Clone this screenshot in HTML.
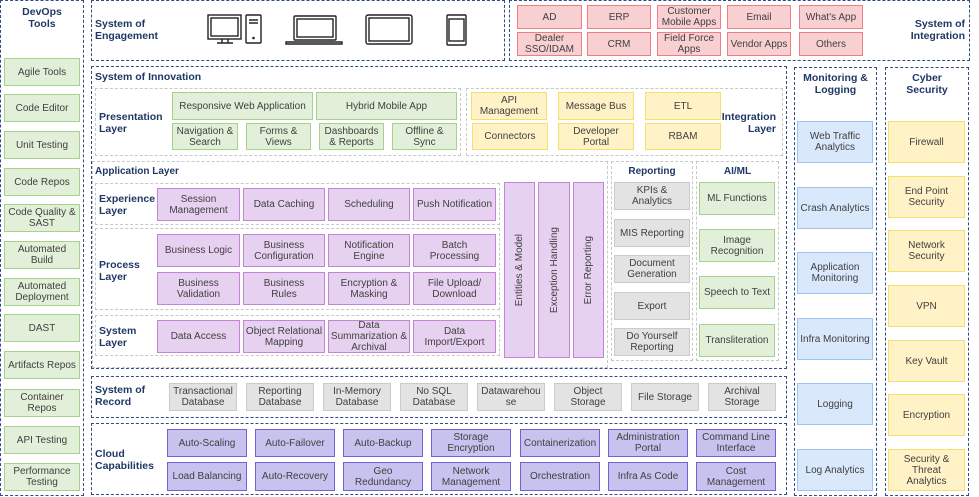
<!DOCTYPE html>
<html><head><meta charset="utf-8"><style>
*{box-sizing:border-box;margin:0;padding:0}
body{width:979px;height:497px;background:#fff;position:relative;overflow:hidden;font-family:"Liberation Sans",Arial,sans-serif}
.o{position:absolute;border:1.3px dashed #2f4b8a}
.g{position:absolute;border:1px dashed #c8c8c8}
.b{position:absolute;display:flex;align-items:center;justify-content:center;text-align:center;font-size:10px;line-height:11px;color:#404040;border:1.5px solid}
.gr{background:#e2f0d9;border-color:#a9d18e}
.pk{background:#f8d0d2;border-color:#ee7f84}
.ye{background:#fff2c6;border-color:#f5df6e}
.pu{background:#e6d2f0;border-color:#c386d6}
.gy{background:#e3e3e3;border-color:#cbcbcb}
.bl{background:#dae8fc;border-color:#9cc3f3}
.cl{background:#c7c2ee;border-color:#6f62d6}
.l{position:absolute;font-weight:bold;color:#1f3864;font-size:10.5px;line-height:12px}
.v{writing-mode:vertical-rl;transform:rotate(180deg)}
</style></head><body>
<!-- outer boxes -->
<div class="o" style="left:0;top:0;width:84px;height:496px"></div>
<div class="o" style="left:91px;top:0;width:414px;height:61px"></div>
<div class="o" style="left:509px;top:0;width:461px;height:61px"></div>
<div class="o" style="left:91px;top:66px;width:696px;height:303px"></div>
<div class="o" style="left:794px;top:67px;width:83px;height:429px"></div>
<div class="o" style="left:885px;top:67px;width:84px;height:429px"></div>
<div class="o" style="left:91px;top:376px;width:696px;height:42px"></div>
<div class="o" style="left:91px;top:423px;width:696px;height:72px"></div>

<div class="l" style="left:0;width:84px;top:6px;text-align:center">DevOps<br>Tools</div>
<div class="l" style="left:95px;top:18px">System of<br>Engagement</div>
<div class="l" style="left:880px;width:85px;top:18px;text-align:right">System of<br>Integration</div>
<div class="l" style="left:95px;top:71px">System of Innovation</div>
<div class="l" style="left:794px;width:83px;top:72px;text-align:center">Monitoring &amp;<br>Logging</div>
<div class="l" style="left:885px;width:84px;top:72px;text-align:center">Cyber<br>Security</div>
<div class="l" style="left:95px;top:384px">System of<br>Record</div>
<div class="l" style="left:95px;top:448px">Cloud<br>Capabilities</div>

<!-- devices -->
<svg style="position:absolute;left:200px;top:12px" width="280" height="36" fill="none" stroke="#222" stroke-width="1.4">
<rect x="8" y="3" width="33" height="24"/><rect x="11" y="6" width="27" height="18"/><path d="M22 27v4M28 27v4M17 31h16"/>
<rect x="46" y="3" width="15" height="28" rx="1"/><path d="M49 8h9M49 11h9"/><circle cx="53.5" cy="26" r=".6"/>
<rect x="94" y="4" width="42" height="24" rx="1"/><rect x="97" y="7" width="36" height="18"/><path d="M86 30h56v2h-56z"/>
<rect x="166" y="3" width="46" height="29" rx="2"/><rect x="169" y="6" width="40" height="23"/>
<rect x="247" y="3" width="19" height="30" rx="1"/><rect x="249" y="7" width="15" height="22"/>
</svg>

<!-- devops -->
<div class="b gr" style="left:4px;top:58px;width:76px;height:28px">Agile Tools</div>
<div class="b gr" style="left:4px;top:94px;width:76px;height:28px">Code Editor</div>
<div class="b gr" style="left:4px;top:131px;width:76px;height:28px">Unit Testing</div>
<div class="b gr" style="left:4px;top:168px;width:76px;height:28px">Code Repos</div>
<div class="b gr" style="left:4px;top:204px;width:76px;height:28px">Code Quality &amp;<br>SAST</div>
<div class="b gr" style="left:4px;top:241px;width:76px;height:28px">Automated<br>Build</div>
<div class="b gr" style="left:4px;top:278px;width:76px;height:28px">Automated<br>Deployment</div>
<div class="b gr" style="left:4px;top:314px;width:76px;height:28px">DAST</div>
<div class="b gr" style="left:4px;top:351px;width:76px;height:28px">Artifacts Repos</div>
<div class="b gr" style="left:4px;top:389px;width:76px;height:28px">Container<br>Repos</div>
<div class="b gr" style="left:4px;top:426px;width:76px;height:28px">API Testing</div>
<div class="b gr" style="left:4px;top:463px;width:76px;height:28px">Performance<br>Testing</div>

<!-- integration -->
<div class="b pk" style="left:517px;top:5px;width:65px;height:24px">AD</div>
<div class="b pk" style="left:587px;top:5px;width:64px;height:24px">ERP</div>
<div class="b pk" style="left:657px;top:5px;width:64px;height:24px">Customer<br>Mobile Apps</div>
<div class="b pk" style="left:727px;top:5px;width:64px;height:24px">Email</div>
<div class="b pk" style="left:799px;top:5px;width:64px;height:24px">What's App</div>
<div class="b pk" style="left:517px;top:32px;width:65px;height:24px">Dealer<br>SSO/IDAM</div>
<div class="b pk" style="left:587px;top:32px;width:64px;height:24px">CRM</div>
<div class="b pk" style="left:657px;top:32px;width:64px;height:24px">Field Force<br>Apps</div>
<div class="b pk" style="left:727px;top:32px;width:64px;height:24px">Vendor Apps</div>
<div class="b pk" style="left:799px;top:32px;width:64px;height:24px">Others</div>

<!-- presentation -->
<div class="g" style="left:95px;top:88px;width:366px;height:68px"></div>
<div class="l" style="left:99px;top:111px">Presentation<br>Layer</div>
<div class="b gr" style="left:172px;top:92px;width:141px;height:28px">Responsive Web Application</div>
<div class="b gr" style="left:316px;top:92px;width:141px;height:28px">Hybrid Mobile App</div>
<div class="b gr" style="left:172px;top:123px;width:66px;height:27px">Navigation &amp;<br>Search</div>
<div class="b gr" style="left:246px;top:123px;width:65px;height:27px">Forms &amp;<br>Views</div>
<div class="b gr" style="left:319px;top:123px;width:65px;height:27px">Dashboards<br>&amp; Reports</div>
<div class="b gr" style="left:392px;top:123px;width:65px;height:27px">Offline &amp;<br>Sync</div>

<div class="g" style="left:466px;top:88px;width:317px;height:68px"></div>
<div class="b ye" style="left:471px;top:92px;width:76px;height:28px">API<br>Management</div>
<div class="b ye" style="left:558px;top:92px;width:76px;height:28px">Message Bus</div>
<div class="b ye" style="left:645px;top:92px;width:76px;height:28px">ETL</div>
<div class="b ye" style="left:472px;top:123px;width:76px;height:27px">Connectors</div>
<div class="b ye" style="left:558px;top:123px;width:76px;height:27px">Developer<br>Portal</div>
<div class="b ye" style="left:645px;top:123px;width:76px;height:27px">RBAM</div>
<div class="l" style="left:700px;width:76px;top:111px;text-align:right">Integration<br>Layer</div>

<!-- application -->
<div class="g" style="left:92px;top:161px;width:516px;height:207px"></div>
<div class="l" style="left:95px;top:166px;font-size:10px">Application Layer</div>
<div class="g" style="left:95px;top:183px;width:405px;height:42px"></div>
<div class="g" style="left:95px;top:228px;width:405px;height:82px"></div>
<div class="g" style="left:95px;top:315px;width:405px;height:41px"></div>
<div class="l" style="left:99px;top:193px">Experience<br>Layer</div>
<div class="l" style="left:99px;top:259px">Process<br>Layer</div>
<div class="l" style="left:99px;top:325px">System<br>Layer</div>
<div class="b pu" style="left:157px;top:188px;width:83px;height:33px">Session<br>Management</div>
<div class="b pu" style="left:243px;top:188px;width:82px;height:33px">Data Caching</div>
<div class="b pu" style="left:328px;top:188px;width:82px;height:33px">Scheduling</div>
<div class="b pu" style="left:413px;top:188px;width:83px;height:33px">Push Notification</div>
<div class="b pu" style="left:157px;top:234px;width:83px;height:33px">Business Logic</div>
<div class="b pu" style="left:243px;top:234px;width:82px;height:33px">Business<br>Configuration</div>
<div class="b pu" style="left:328px;top:234px;width:82px;height:33px">Notification<br>Engine</div>
<div class="b pu" style="left:413px;top:234px;width:83px;height:33px">Batch<br>Processing</div>
<div class="b pu" style="left:157px;top:272px;width:83px;height:33px">Business<br>Validation</div>
<div class="b pu" style="left:243px;top:272px;width:82px;height:33px">Business<br>Rules</div>
<div class="b pu" style="left:328px;top:272px;width:82px;height:33px">Encryption &amp;<br>Masking</div>
<div class="b pu" style="left:413px;top:272px;width:83px;height:33px">File Upload/<br>Download</div>
<div class="b pu" style="left:157px;top:320px;width:83px;height:33px">Data Access</div>
<div class="b pu" style="left:243px;top:320px;width:82px;height:33px">Object Relational<br>Mapping</div>
<div class="b pu" style="left:328px;top:320px;width:82px;height:33px">Data<br>Summarization &amp;<br>Archival</div>
<div class="b pu" style="left:413px;top:320px;width:83px;height:33px">Data<br>Import/Export</div>
<div class="b pu" style="left:504px;top:182px;width:31px;height:176px"><span class="v">Entities &amp; Model</span></div>
<div class="b pu" style="left:538px;top:182px;width:32px;height:176px"><span class="v">Exception Handling</span></div>
<div class="b pu" style="left:573px;top:182px;width:31px;height:176px"><span class="v">Error Reporting</span></div>

<!-- reporting -->
<div class="g" style="left:611px;top:161px;width:82px;height:200px"></div>
<div class="l" style="left:611px;width:82px;top:166px;text-align:center;font-size:10px">Reporting</div>
<div class="b gy" style="left:614px;top:182px;width:76px;height:28px">KPIs &amp;<br>Analytics</div>
<div class="b gy" style="left:614px;top:219px;width:76px;height:28px">MIS Reporting</div>
<div class="b gy" style="left:614px;top:255px;width:76px;height:28px">Document<br>Generation</div>
<div class="b gy" style="left:614px;top:292px;width:76px;height:28px">Export</div>
<div class="b gy" style="left:614px;top:328px;width:76px;height:28px">Do Yourself<br>Reporting</div>
<div class="g" style="left:696px;top:161px;width:83px;height:200px"></div>
<div class="l" style="left:696px;width:83px;top:166px;text-align:center;font-size:10px">AI/ML</div>
<div class="b gr" style="left:699px;top:182px;width:76px;height:33px">ML Functions</div>
<div class="b gr" style="left:699px;top:229px;width:76px;height:33px">Image<br>Recognition</div>
<div class="b gr" style="left:699px;top:276px;width:76px;height:33px">Speech to Text</div>
<div class="b gr" style="left:699px;top:324px;width:76px;height:33px">Transliteration</div>

<!-- monitoring -->
<div class="b bl" style="left:797px;top:121px;width:76px;height:42px">Web Traffic<br>Analytics</div>
<div class="b bl" style="left:797px;top:187px;width:76px;height:42px">Crash Analytics</div>
<div class="b bl" style="left:797px;top:252px;width:76px;height:42px">Application<br>Monitoring</div>
<div class="b bl" style="left:797px;top:318px;width:76px;height:42px">Infra Monitoring</div>
<div class="b bl" style="left:797px;top:383px;width:76px;height:42px">Logging</div>
<div class="b bl" style="left:797px;top:449px;width:76px;height:42px">Log Analytics</div>

<!-- cyber -->
<div class="b ye" style="left:888px;top:121px;width:77px;height:42px">Firewall</div>
<div class="b ye" style="left:888px;top:176px;width:77px;height:42px">End Point<br>Security</div>
<div class="b ye" style="left:888px;top:230px;width:77px;height:42px">Network<br>Security</div>
<div class="b ye" style="left:888px;top:285px;width:77px;height:42px">VPN</div>
<div class="b ye" style="left:888px;top:340px;width:77px;height:42px">Key Vault</div>
<div class="b ye" style="left:888px;top:394px;width:77px;height:42px">Encryption</div>
<div class="b ye" style="left:888px;top:449px;width:77px;height:42px">Security &amp;<br>Threat<br>Analytics</div>

<!-- record -->
<div class="b gy" style="left:169px;top:383px;width:68px;height:28px">Transactional<br>Database</div>
<div class="b gy" style="left:246px;top:383px;width:68px;height:28px">Reporting<br>Database</div>
<div class="b gy" style="left:323px;top:383px;width:68px;height:28px">In-Memory<br>Database</div>
<div class="b gy" style="left:400px;top:383px;width:68px;height:28px">No SQL<br>Database</div>
<div class="b gy" style="left:477px;top:383px;width:68px;height:28px">Datawarehou<br>se</div>
<div class="b gy" style="left:554px;top:383px;width:68px;height:28px">Object<br>Storage</div>
<div class="b gy" style="left:631px;top:383px;width:68px;height:28px">File Storage</div>
<div class="b gy" style="left:708px;top:383px;width:68px;height:28px">Archival<br>Storage</div>

<!-- cloud -->
<div class="b cl" style="left:167px;top:429px;width:80px;height:28px">Auto-Scaling</div>
<div class="b cl" style="left:255px;top:429px;width:80px;height:28px">Auto-Failover</div>
<div class="b cl" style="left:343px;top:429px;width:80px;height:28px">Auto-Backup</div>
<div class="b cl" style="left:431px;top:429px;width:80px;height:28px">Storage<br>Encryption</div>
<div class="b cl" style="left:520px;top:429px;width:80px;height:28px">Containerization</div>
<div class="b cl" style="left:608px;top:429px;width:80px;height:28px">Administration<br>Portal</div>
<div class="b cl" style="left:696px;top:429px;width:80px;height:28px">Command Line<br>Interface</div>
<div class="b cl" style="left:167px;top:462px;width:80px;height:29px">Load Balancing</div>
<div class="b cl" style="left:255px;top:462px;width:80px;height:29px">Auto-Recovery</div>
<div class="b cl" style="left:343px;top:462px;width:80px;height:29px">Geo<br>Redundancy</div>
<div class="b cl" style="left:431px;top:462px;width:80px;height:29px">Network<br>Management</div>
<div class="b cl" style="left:520px;top:462px;width:80px;height:29px">Orchestration</div>
<div class="b cl" style="left:608px;top:462px;width:80px;height:29px">Infra As Code</div>
<div class="b cl" style="left:696px;top:462px;width:80px;height:29px">Cost<br>Management</div>
</body></html>
